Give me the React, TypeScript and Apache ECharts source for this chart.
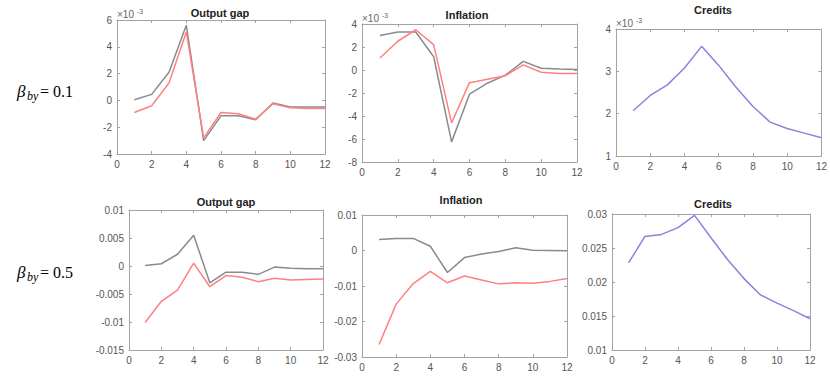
import React, { useEffect, useRef } from 'react';
import * as echarts from 'echarts';

const periods = [1, 2, 3, 4, 5, 6, 7, 8, 9, 10, 11, 12];
const panelTitles = ['Output gap', 'Inflation', 'Credits'];
const rowValues = ['0.1', '0.5'];

// Row 1 (values in units of 1e-3)
const gapTopBase = [0.05, 0.45, 2.1, 5.6, -3.0, -1.15, -1.15, -1.45, -0.2, -0.5, -0.5, -0.5];
const gapTopAlt = [-0.9, -0.4, 1.3, 5.1, -2.8, -0.9, -1.0, -1.4, -0.25, -0.55, -0.6, -0.6];
const infTopBase = [3.0, 3.3, 3.3, 1.15, -6.25, -2.1, -1.15, -0.45, 0.75, 0.15, 0.08, 0.05];
const infTopAlt = [1.05, 2.5, 3.5, 2.2, -4.6, -1.1, -0.8, -0.5, 0.45, -0.2, -0.3, -0.3];
const creditsTop = [2.07, 2.43, 2.68, 3.08, 3.59, 3.14, 2.63, 2.17, 1.8, 1.65, 1.54, 1.43];

// Row 2
const gapBotBase = [0.0001, 0.0004, 0.0021, 0.0055, -0.003, -0.0011, -0.0011, -0.0015, -0.0002, -0.0004, -0.0005, -0.0005];
const gapBotAlt = [-0.0101, -0.0063, -0.0043, 0.0005, -0.0037, -0.0017, -0.002, -0.0028, -0.0022, -0.0025, -0.0024, -0.0023];
const infBotBase = [0.0031, 0.0034, 0.0034, 0.0012, -0.0062, -0.002, -0.001, -0.0003, 0.0008, 0.0001, 0.0, -0.0001];
const infBotAlt = [-0.0265, -0.0151, -0.0093, -0.0059, -0.0091, -0.0072, -0.0083, -0.0094, -0.0091, -0.0092, -0.0087, -0.0079];
const creditsBot = [0.0228, 0.0267, 0.027, 0.028, 0.0298, 0.0265, 0.0233, 0.0205, 0.0181, 0.0169, 0.0158, 0.0146];

// y ranges [min, max, interval]
const yRanges = [
  [-4, 6, 2],
  [-8, 4, 2],
  [1, 4, 1],
  [-0.015, 0.01, 0.005],
  [-0.03, 0.01, 0.01],
  [0.01, 0.03, 0.005],
];

const GRAY = '#8a8a8a';
const RED = '#ff8080';
const BLUE = '#8585dd';

const panelSeries = [
  [{ d: gapTopBase, c: GRAY }, { d: gapTopAlt, c: RED }],
  [{ d: infTopBase, c: GRAY }, { d: infTopAlt, c: RED }],
  [{ d: creditsTop, c: BLUE }],
  [{ d: gapBotBase, c: GRAY }, { d: gapBotAlt, c: RED }],
  [{ d: infBotBase, c: GRAY }, { d: infBotAlt, c: RED }],
  [{ d: creditsBot, c: BLUE }],
];

const layout = [
  { left: 117, top: 20, width: 208, height: 134, tx: 220, ty: 13 },
  { left: 362, top: 24, width: 215, height: 138, tx: 467, ty: 15 },
  { left: 616, top: 29, width: 206, height: 127, tx: 713, ty: 10 },
  { left: 129, top: 210, width: 194, height: 140, tx: 226, ty: 202 },
  { left: 362, top: 215, width: 205, height: 142, tx: 461, ty: 200 },
  { left: 612, top: 214, width: 198, height: 136, tx: 713, ty: 204 },
];

const FONT = '"Liberation Sans", Arial, Helvetica, sans-serif';
const SERIF = '"Liberation Serif", "Times New Roman", serif';
const AXIS_COLOR = '#a3a3a3';

function fmt(v: number) {
  const n = parseFloat(v.toFixed(4));
  return (n === 0 ? 0 : n).toString();
}

function buildOption() {
  const grid: any[] = [];
  const xAxis: any[] = [];
  const yAxis: any[] = [];
  const series: any[] = [];
  const graphic: any[] = [];

  layout.forEach((l, i) => {
    grid.push({ left: l.left, top: l.top, width: l.width, height: l.height, containLabel: false });
    const lineStyle = { color: AXIS_COLOR, width: 1 };
    const baseX = {
      type: 'value', gridIndex: i, min: 0, max: 12, interval: 2,
      axisLine: { show: true, onZero: false, lineStyle },
      axisTick: { show: true, inside: true, length: 3, lineStyle },
      splitLine: { show: false },
    };
    xAxis.push({ ...baseX, position: 'bottom', axisLabel: { color: '#555', fontSize: 10, fontFamily: FONT, margin: 5 } });
    xAxis.push({ ...baseX, position: 'top', axisLabel: { show: false } });
    const [mn, mx, iv] = yRanges[i];
    const baseY = {
      type: 'value', gridIndex: i, min: mn, max: mx, interval: iv,
      axisLine: { show: true, onZero: false, lineStyle },
      axisTick: { show: true, inside: true, length: 3, lineStyle },
      splitLine: { show: false },
    };
    yAxis.push({ ...baseY, position: 'left', axisLabel: { color: '#555', fontSize: 10, fontFamily: FONT, margin: 5, formatter: fmt } });
    yAxis.push({ ...baseY, position: 'right', axisLabel: { show: false } });

    panelSeries[i].forEach((s) => {
      series.push({
        type: 'line',
        xAxisIndex: 2 * i,
        yAxisIndex: 2 * i,
        data: periods.map((p, k) => [p, s.d[k]]),
        symbol: 'none',
        lineStyle: { color: s.c, width: 1.5 },
        itemStyle: { color: s.c },
      });
    });

    graphic.push({
      type: 'text', x: l.tx, y: l.ty,
      style: { text: panelTitles[i % 3], font: `bold 11px ${FONT}`, fill: '#222', textAlign: 'center', textVerticalAlign: 'middle' },
    });

    if (i < 3) {
      graphic.push({
        type: 'text', x: l.left, y: l.top - 5.5,
        style: { text: '×10', font: `10px ${FONT}`, fill: '#666', textAlign: 'left', textVerticalAlign: 'middle' },
      });
      graphic.push({
        type: 'text', x: l.left + 20, y: l.top - 9,
        style: { text: '-3', font: `7px ${FONT}`, fill: '#666', textAlign: 'left', textVerticalAlign: 'middle' },
      });
    }
  });

  rowValues.forEach((v, r) => {
    const cy = r === 0 ? 91 : 272;
    graphic.push({
      type: 'text', x: 17, y: cy,
      style: { text: 'β', font: `italic 17px ${SERIF}`, fill: '#000', textAlign: 'left', textVerticalAlign: 'middle' },
    });
    graphic.push({
      type: 'text', x: 27, y: cy + 5,
      style: { text: 'by', font: `italic 12px ${SERIF}`, fill: '#000', textAlign: 'left', textVerticalAlign: 'middle' },
    });
    graphic.push({
      type: 'text', x: 40, y: cy,
      style: { text: '= ' + v, font: `16px ${SERIF}`, fill: '#000', textAlign: 'left', textVerticalAlign: 'middle' },
    });
  });

  return {
    animation: false,
    backgroundColor: '#fff',
    grid,
    xAxis,
    yAxis,
    series,
    graphic,
  };
}

export default function App() {
  const ref = useRef<HTMLDivElement>(null);
  useEffect(() => {
    if (!ref.current) return;
    const chart = echarts.init(ref.current, null, { renderer: 'svg' });
    chart.setOption(buildOption() as any);
    return () => chart.dispose();
  }, []);
  return (
    <div
      ref={ref}
      style={{ position: 'fixed', left: 0, top: 0, width: 830, height: 376, background: '#fff' }}
    />
  );
}
